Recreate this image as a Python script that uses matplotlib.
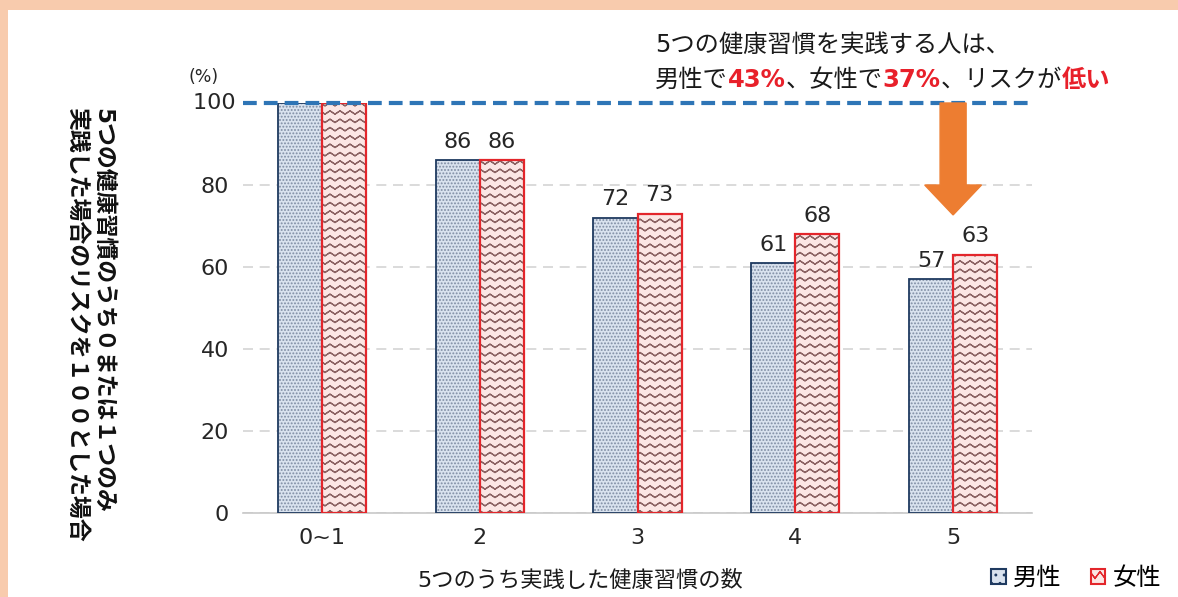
import warnings
import numpy as np
import matplotlib
matplotlib.use("Agg")
import matplotlib.pyplot as plt
import matplotlib.patches as mpatches
from matplotlib import hatch as mhatch
from matplotlib.path import Path

warnings.filterwarnings("ignore")

plt.rcParams['font.family'] = ['DejaVu Sans', 'Noto Sans CJK JP']

# ---- data ----
categories = ["0~1", "2", "3", "4", "5"]
male = [100, 86, 72, 61, 57]
female = [100, 86, 73, 68, 63]
series_names = ["男性", "女性"]
yticks = [0, 20, 40, 60, 80, 100]


# zigzag hatch (wavy lines like the original)
class ZigzagHatch(mhatch.HatchPatternBase):
    def __init__(self, hatch, density):
        self.num_lines = int(hatch.count('z') * 6)
        self.num_steps = 20
        self.num_vertices = self.num_lines * (2 * self.num_steps + 2)

    def set_vertices_and_codes(self, vertices, codes):
        n, k = self.num_lines, self.num_steps
        if not n:
            return
        xs = np.linspace(0, 1, k + 1)
        zig = np.where(np.arange(k + 1) % 2 == 0, 0.2 / n, -0.2 / n)
        m = 2 * k + 2
        for i in range(n):
            a = i * m
            ys = (i + 0.5) / n + zig
            # go forward and back so the filled area is zero
            vertices[a:a + m, 0] = np.concatenate([xs, xs[::-1]])
            vertices[a:a + m, 1] = np.concatenate([ys, ys[::-1]])
            codes[a:a + m] = Path.LINETO
            codes[a] = Path.MOVETO

    get_vertices_and_codes = set_vertices_and_codes


mhatch._hatch_types.append(ZigzagHatch)

male_fill, male_hatch, male_edge = "#d9e2ee", "#7f8ca3", "#1f3a60"
fem_fill, fem_hatch, fem_edge = "#fbe6e4", "#8c6464", "#e3262b"
red = "#e8202a"
plt.rcParams['hatch.linewidth'] = 0.9

fig = plt.figure(figsize=(11.78, 5.97), dpi=100)
fig.patch.set_facecolor("#f8cbad")
fig.patches.append(mpatches.Rectangle((8 / 1178, 0), 1, 1 - 10 / 597,
                                      transform=fig.transFigure,
                                      facecolor="white", edgecolor="none", zorder=-5))

ax = fig.add_axes([243 / 1178, 1 - 513 / 597, (1032 - 243) / 1178, (513 - 103) / 597])
ax.set_facecolor("none")

x = np.arange(len(categories))
w = 0.28
b1 = ax.bar(x - w / 2, male, w, color=male_fill, edgecolor=male_hatch, hatch=".....",
            linewidth=0, zorder=2)
ax.bar(x - w / 2, male, w, facecolor="none", edgecolor=male_edge, linewidth=1.3, zorder=3)
b2 = ax.bar(x + w / 2, female, w, color=fem_fill, edgecolor=fem_hatch, hatch="zz",
            linewidth=0, zorder=2)
ax.bar(x + w / 2, female, w, facecolor="none", edgecolor=fem_edge, linewidth=1.6, zorder=3)

ax.bar_label(b1, labels=[""] + [str(v) for v in male[1:]], padding=6,
             fontsize=16, color="#262626")
ax.bar_label(b2, labels=[""] + [str(v) for v in female[1:]], padding=6,
             fontsize=16, color="#262626")

ax.set_xlim(-0.5, len(categories) - 0.5)
ax.set_ylim(0, 100)
ax.set_yticks(yticks[:-1])
ax.set_xticks(x)
ax.set_xticklabels(categories)
ax.tick_params(axis='both', length=0, labelsize=16, colors="#262626")
ax.tick_params(axis='x', pad=11)
ax.tick_params(axis='y', pad=10)
ax.text(-0.5, 100, "100 ", transform=ax.transData, ha="right", va="center",
        fontsize=16, color="#262626")
ax.yaxis.grid(True, color="#d4d4d4", linestyle=(0, (6, 4)), linewidth=1.2, zorder=0)
ax.set_axisbelow(True)
for s in ["top", "right", "left"]:
    ax.spines[s].set_visible(False)
ax.spines["bottom"].set_color("#c8c8c8")
ax.spines["bottom"].set_linewidth(1.2)

# 100 reference line
ax.axhline(100, color="#2e75b6", linewidth=3, dashes=(3.3, 1.7), zorder=4, clip_on=False)

# orange arrow
ax.add_patch(mpatches.FancyArrow(4, 100, 0, -27.3, width=0.165, head_width=0.36,
                                 head_length=7.3, length_includes_head=True,
                                 color="#ed7d31", zorder=5, clip_on=False))

# text
fig.text(0.556, 1 - 45 / 597, "5つの健康習慣を実践する人は、", fontsize=17.5,
         ha="left", va="center", color="#1a1a1a")
pieces = [("男性で", "#1a1a1a", "normal"), ("43%", red, "bold"),
          ("、女性で", "#1a1a1a", "normal"), ("37%", red, "bold"),
          ("、リスクが", "#1a1a1a", "normal"), ("低い", red, "bold")]
t = fig.text(0.556, 1 - 80 / 597, pieces[0][0], fontsize=17.5, ha="left",
             va="center", color=pieces[0][1], fontweight=pieces[0][2])
for s, c, fw in pieces[1:]:
    t = ax.annotate(s, xy=(1, 0), xycoords=t, ha="left", va="bottom",
                    fontsize=17.5, color=c, fontweight=fw, annotation_clip=False)

fig.text(204 / 1178, 1 - 77 / 597, "(%)", fontsize=12.5, ha="center", va="center",
         color="#262626")
fig.text(90 / 1178, 1 - 108 / 597,
         "5つの健康習慣のうち０または１つのみ\n実践した場合のリスクを１００とした場合",
         rotation=270, ha="center", va="top", multialignment="left",
         fontsize=16.5, fontweight="bold", linespacing=1.2, color="#111111")
fig.text(580 / 1178, 1 - 580 / 597, "5つのうち実践した健康習慣の数", fontsize=16,
         ha="center", va="center", color="#1a1a1a")

handles = [mpatches.Patch(facecolor=male_fill, edgecolor=male_edge, hatch="..", linewidth=1.5),
           mpatches.Patch(facecolor=fem_fill, edgecolor=fem_edge, hatch="z", linewidth=1.5)]
fig.legend(handles, series_names, loc="center right", bbox_to_anchor=(1.0, 1 - 578 / 597),
           ncol=2, frameon=False, fontsize=17.5, handlelength=0.6, handleheight=0.6,
           handletextpad=0.3, columnspacing=1.2, borderaxespad=0.3)

fig.savefig("out.png", dpi=100, facecolor=fig.get_facecolor())
